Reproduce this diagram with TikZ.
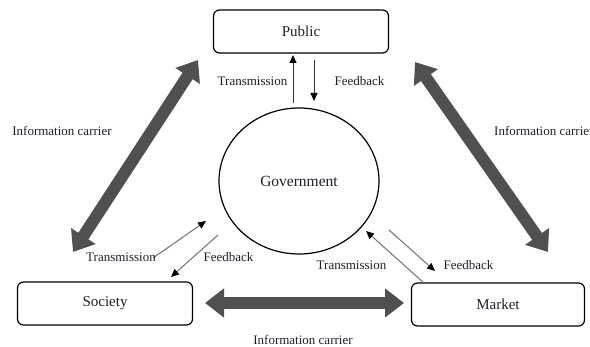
\documentclass[tikz,border=0pt]{standalone}
\usepackage{fontspec}
\setmainfont{Liberation Serif}
\usetikzlibrary{shapes.geometric,arrows.meta}
\definecolor{heavy}{HTML}{505050}
\definecolor{thin}{HTML}{707070}
\definecolor{ink}{HTML}{1E1E28}
\begin{document}
\begin{tikzpicture}[x=1pt,y=-1pt,
  box/.style={draw=black,line width=1.2pt,rounded corners=6pt,minimum width=175pt,minimum height=43pt,
    font=\fontsize{15}{17}\selectfont,text=ink},
  hub/.style={draw=black,line width=1.2pt,ellipse,minimum width=160pt,minimum height=146pt,
    font=\fontsize{15.5}{18}\selectfont,text=ink},
  lbl/.style={font=\fontsize{13}{15}\selectfont,text=ink,inner sep=0pt},
  carrier/.style={draw=heavy,line width=12pt,{Triangle[length=19pt,width=28pt]}-{Triangle[length=19pt,width=28pt]}},
  flow/.style={draw=thin,line width=1pt,-{Triangle[length=8pt,width=7pt,color=black]}}]
\useasboundingbox (0,0) rectangle (590,347);

% boxes and the central ellipse
\node[box] (pub) at (301,31.5) {Public};
\node[box] (soc) at (105,303.5) {Society};
\node[box,minimum width=173pt] (mkt) at (498,304.5) {Market};
\node[hub] (gov) at (299,181) {Government};

% end points of the information-carrier arrows
\coordinate (lt) at (198,60);
\coordinate (lb) at (73,252);
\coordinate (rt) at (415,62);
\coordinate (rb) at (548,252);
\coordinate (bl) at (205,303);
\coordinate (br) at (404,303);
\draw[carrier] (lb) -- (lt);
\draw[carrier] (rt) -- (rb);
\draw[carrier] (bl) -- (br);

% transmission / feedback between Public and Government
\coordinate (pu0) at (293,103);
\coordinate (pu1) at (293,55);
\coordinate (pd0) at (314,60);
\coordinate (pd1) at (314,101);
\draw[flow,draw=black!80] (pu0) -- (pu1);
\draw[flow,draw=black!80] (pd0) -- (pd1);

% transmission / feedback between Society and Government
\coordinate (st0) at (153,258);
\coordinate (st1) at (206,221);
\coordinate (sf0) at (218,235);
\coordinate (sf1) at (171,277);
\draw[flow] (st0) -- (st1);
\draw[flow] (sf0) -- (sf1);

% transmission / feedback between Market and Government
\coordinate (mt0) at (424,283);
\coordinate (mt1) at (366,231);
\coordinate (mf0) at (389,230);
\coordinate (mf1) at (435,271);
\draw[flow] (mt0) -- (mt1);
\draw[flow] (mf0) -- (mf1);

% labels
\node[lbl] (l1) at (252.5,81) {Transmission};
\node[lbl] (l2) at (359.5,81) {Feedback};
\node[lbl] (l3) at (62,131) {Information carrier};
\node[lbl,anchor=west] (l4) at (494,131) {Information carrier};
\node[lbl] (l5) at (303,340) {Information carrier};
\node[lbl] (l6) at (121,257) {Transmission};
\node[lbl] (l7) at (228.5,257) {Feedback};
\node[lbl] (l8) at (351.5,265.5) {Transmission};
\node[lbl] (l9) at (468.5,265.5) {Feedback};
\end{tikzpicture}
\end{document}
